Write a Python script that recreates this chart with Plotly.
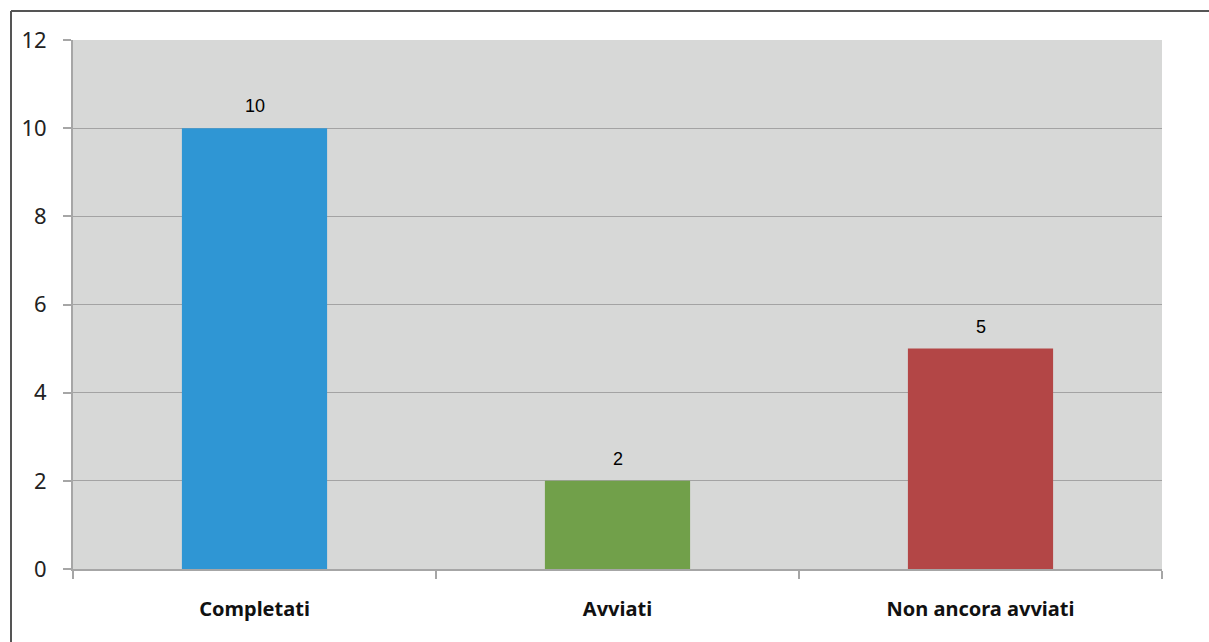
import plotly.graph_objects as go

# Project status counts
categories = ["Completati", "Avviati", "Non ancora avviati"]
values = [10, 2, 5]
bar_colors = ["#2f96d4", "#71a04a", "#b34646"]
y_ticks = [0, 2, 4, 6, 8, 10, 12]

W, H = 1209, 642
ML, MR, MT, MB = 73, 47, 40, 73
plot_w = W - ML - MR
plot_h = H - MT - MB

fig = go.Figure(
    go.Bar(
        x=categories,
        y=values,
        marker=dict(color=bar_colors, line=dict(width=0)),
        width=0.4,
        hoverinfo="x+y",
    )
)

# Value labels above each bar
for cat, val in zip(categories, values):
    fig.add_annotation(
        x=cat, y=val, text=str(val), showarrow=False,
        yanchor="bottom", yshift=10,
        font=dict(family="Liberation Sans", size=18, color="#000000"),
    )

# Frame lines along the top and left edges of the image
fx = (11 - ML) / plot_w
fy = (H - MB - 11) / plot_h
fig.add_shape(type="line", xref="paper", yref="paper", x0=fx, x1=1.2, y0=fy, y1=fy,
              line=dict(color="#555555", width=2))
fig.add_shape(type="line", xref="paper", yref="paper", x0=fx, x1=fx, y0=fy, y1=-0.3,
              line=dict(color="#555555", width=2))

fig.update_layout(
    width=W,
    height=H,
    margin=dict(l=ML, r=MR, t=MT, b=MB),
    paper_bgcolor="white",
    plot_bgcolor="#d7d8d7",
    showlegend=False,
    bargap=0.6,
    font=dict(family="Noto Sans", color="#222222"),
)
fig.update_xaxes(
    type="category",
    showgrid=False,
    showline=True,
    linecolor="#a6a6a6",
    linewidth=2,
    ticks="outside",
    tickson="boundaries",
    ticklen=8,
    tickcolor="#a6a6a6",
    tickwidth=2,
    tickfont=dict(family="Noto Sans", size=20, color="#111111", weight="bold"),
    ticklabelstandoff=21,
)
fig.update_yaxes(
    range=[0, 12],
    tickvals=y_ticks,
    showgrid=True,
    gridcolor="#a3a3a3",
    gridwidth=1,
    zeroline=False,
    showline=True,
    linecolor="#a6a6a6",
    linewidth=2,
    ticks="outside",
    ticklen=8,
    tickcolor="#a6a6a6",
    tickwidth=2,
    tickfont=dict(family="Noto Sans", size=22, color="#222222"),
    ticklabelstandoff=12,
)

fig.write_html("out.html")
